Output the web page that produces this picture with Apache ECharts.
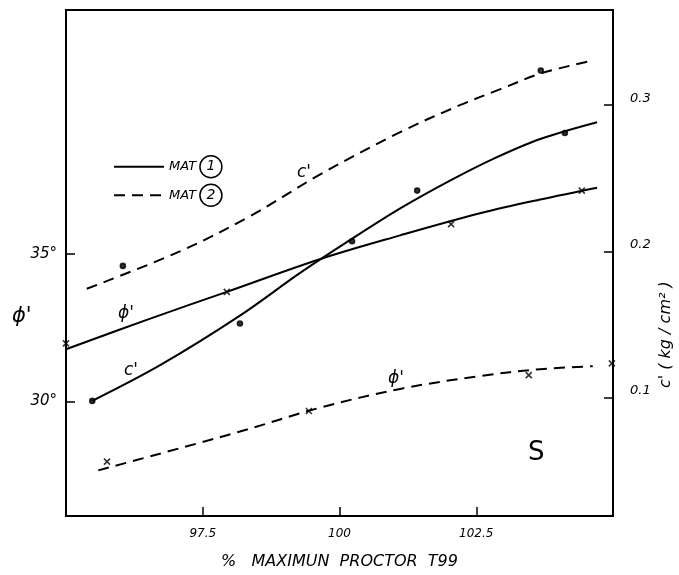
<!DOCTYPE html>
<html>
<head>
<meta charset="utf-8">
<script src="https://cdn.jsdelivr.net/npm/echarts@6/dist/echarts.min.js"></script>
<style>html,body{margin:0;padding:0;background:#fff}#c{width:679px;height:575px}</style>
</head>
<body>
<div id="c"></div>
<script>
// x: % maximum Proctor T99 ; left axis phi' (deg) ; right axis c' (kg/cm2)
const xTicks = [97.5, 100, 102.5];
const phiTicks = [30, 35];
const cTicks = [0.1, 0.2, 0.3];

// MAT 1 phi' curve (solid)
const mat1PhiCurve = [[95.0,31.77],[96.54,32.81],[97.94,33.72],[99.64,34.83],[101.11,35.64],[102.57,36.39],[103.67,36.86],[104.71,37.26]];
const mat1PhiPts = [[95.0,31.97],[97.94,33.72],[102.04,36.02],[104.43,37.16]];
// MAT 1 c' curve (solid)
const mat1CCurve = [[95.48,0.0977],[96.72,0.1221],[98.18,0.1560],[99.28,0.1852],[100.19,0.2076],[101.11,0.2293],[102.02,0.2483],[102.81,0.2632],[103.67,0.2768],[104.71,0.2883]];
const mat1CPts = [[95.48,0.0977],[98.18,0.1506],[100.23,0.2069],[101.42,0.2415],[104.12,0.2809]];
// MAT 2 c' curve (dashed)
const mat2CCurve = [[95.38,0.1744],[97.08,0.1999],[98.36,0.2239],[99.64,0.2524],[101.11,0.2815],[102.20,0.2999],[102.93,0.3107],[103.68,0.3216],[104.54,0.3297]];
const mat2CPts = [[96.04,0.1900],[103.68,0.3236]];
// MAT 2 phi' curve (dashed)
const mat2PhiCurve = [[95.59,27.65],[98.18,28.97],[99.64,29.78],[101.11,30.42],[102.57,30.86],[103.67,31.09],[104.63,31.19]];
const mat2PhiPts = [[95.75,27.95],[99.44,29.67],[103.46,30.89],[104.98,31.29]];

const FONT = '"DejaVu Sans", sans-serif';
const crossPath = 'path://M0,0L10,10M10,0L0,10';

const chart = echarts.init(document.getElementById('c'));
function lineSeries(name, data, yIdx, dashed) {
  return {
    type: 'line', name: name, data: data, yAxisIndex: yIdx, smooth: 0.35,
    symbol: 'none', showSymbol: false, silent: true, animation: false,
    lineStyle: { color: '#000', width: 2, type: dashed ? [11, 7] : 'solid' },
    itemStyle: { color: '#000' }, z: 3
  };
}
function ptSeries(data, yIdx, symbol, size) {
  return {
    type: 'scatter', name: 'pts', data: data, yAxisIndex: yIdx,
    symbol: symbol, symbolSize: size, animation: false, silent: true,
    itemStyle: { color: '#000', borderColor: '#000', borderWidth: 1.6 }, z: 4
  };
}

chart.setOption({
  backgroundColor: '#fff',
  animation: false,
  grid: { left: 66, right: 66, top: 10, bottom: 55, show: true, borderColor: '#000', borderWidth: 2 },
  legend: {
    data: ['MAT 1', 'MAT 2'], orient: 'vertical', left: 108, top: 150,
    itemWidth: 50, itemHeight: 14, itemGap: 5, selectedMode: false,
    itemStyle: { opacity: 0 },
    formatter: function (n) { return '{t|MAT} {n|' + n.split(' ')[1] + '}'; },
    textStyle: {
      fontFamily: FONT, color: '#000',
      rich: {
        t: { fontStyle: 'italic', fontSize: 13, fontFamily: FONT, color: '#000' },
        n: { fontStyle: 'italic', fontSize: 14, fontFamily: FONT, color: '#000', borderColor: '#000', borderWidth: 1.5, borderRadius: 12, width: 22, height: 22, lineHeight: 22, align: 'center' }
      }
    }
  },
  xAxis: {
    type: 'value', min: 95, max: 105,
    name: '%   MAXIMUN  PROCTOR  T99', nameLocation: 'middle', nameGap: 38,
    nameTextStyle: { fontFamily: FONT, fontStyle: 'italic', fontSize: 16, color: '#000' },
    axisLine: { show: true, lineStyle: { color: '#000', width: 2 } },
    axisTick: { show: true, inside: true, length: 9, customValues: xTicks, lineStyle: { color: '#000', width: 1.5 } },
    axisLabel: { customValues: xTicks, margin: 12, fontFamily: FONT, fontStyle: 'italic', fontSize: 12, color: '#000',
      formatter: function (v) { return String(v); } },
    splitLine: { show: false }
  },
  yAxis: [
    {
      type: 'value', min: 26.1, max: 43.3, position: 'left',
      axisLine: { show: true, lineStyle: { color: '#000', width: 2 } },
      axisTick: { show: true, inside: true, length: 9, customValues: phiTicks, lineStyle: { color: '#000', width: 1.5 } },
      axisLabel: { customValues: phiTicks, margin: 9, fontFamily: FONT, fontStyle: 'italic', fontSize: 15, color: '#000',
        formatter: function (v) { return v + '\u00B0'; } },
      splitLine: { show: false }
    },
    {
      type: 'value', min: 0.019, max: 0.365, position: 'right',
      axisLine: { show: true, lineStyle: { color: '#000', width: 2 } },
      axisTick: { show: true, inside: true, length: 9, customValues: cTicks, lineStyle: { color: '#000', width: 1.5 } },
      axisLabel: { customValues: cTicks, margin: 17, verticalAlign: 'bottom', fontFamily: FONT, fontStyle: 'italic', fontSize: 13, color: '#000',
        formatter: function (v) { return v.toFixed(1); } },
      splitLine: { show: false }
    }
  ],
  graphic: [
    { type: 'text', x: 12, y: 306, style: { text: "\u03D5'", font: 'italic 21px ' + FONT, fill: '#000' } },
    { type: 'text', x: 658, y: 388, rotation: Math.PI / 2, style: { text: "c' ( kg / cm\u00B2 )", font: 'italic 16px ' + FONT, fill: '#000' } },
    { type: 'text', left: 118, top: 305, style: { text: "\u03D5'", font: 'italic 17px ' + FONT, fill: '#000' } },
    { type: 'text', left: 124, top: 362, style: { text: "c'", font: 'italic 17px ' + FONT, fill: '#000' } },
    { type: 'text', left: 297, top: 164, style: { text: "c'", font: 'italic 17px ' + FONT, fill: '#000' } },
    { type: 'text', left: 388, top: 370, style: { text: "\u03D5'", font: 'italic 17px ' + FONT, fill: '#000' } },
    { type: 'text', left: 528, top: 440, style: { text: 'S', font: '26px ' + FONT, fill: '#000' } }
  ],
  series: [
    lineSeries('MAT 1', mat1PhiCurve, 0, false),
    lineSeries('MAT 1', mat1CCurve, 1, false),
    lineSeries('MAT 2', mat2CCurve, 1, true),
    lineSeries('MAT 2', mat2PhiCurve, 0, true),
    ptSeries(mat1PhiPts, 0, crossPath, 6),
    ptSeries(mat1CPts, 1, 'circle', 5),
    ptSeries(mat2CPts, 1, 'circle', 5),
    ptSeries(mat2PhiPts, 0, crossPath, 6)
  ]
});
</script>
</body>
</html>
